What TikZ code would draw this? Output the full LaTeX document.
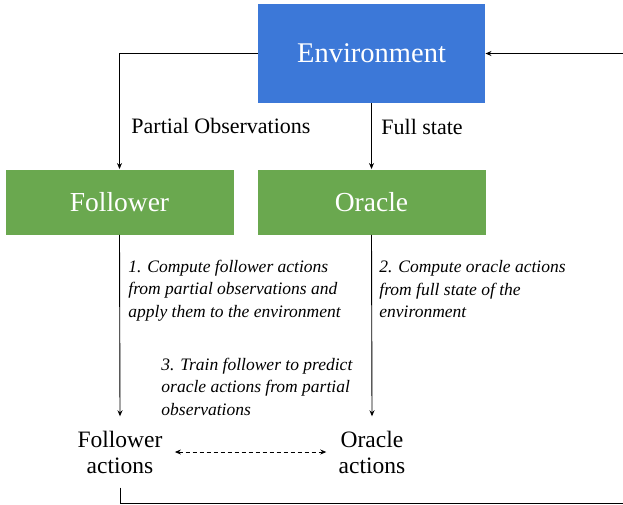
\documentclass[tikz,border=0pt]{standalone}
\usepackage{fontspec}
\setmainfont{Liberation Serif}
\usetikzlibrary{arrows.meta}
\definecolor{envblue}{HTML}{3C78D8}
\definecolor{agentgreen}{HTML}{6AA84F}
\begin{document}
\begin{tikzpicture}[x=1pt,y=-1pt,
      line width=0.9pt,
      >={Stealth[length=6pt,width=5pt]},
      envbox/.style={fill=envblue,text=white,minimum width=227pt,minimum height=99pt,
        font=\fontsize{28.5}{34}\selectfont},
      agentbox/.style={fill=agentgreen,text=white,minimum width=228pt,minimum height=65pt,
        font=\fontsize{27.5}{33}\selectfont},
      flowlabel/.style={anchor=west,inner sep=0pt,font=\fontsize{22}{26}\selectfont},
      steptext/.style={anchor=west,inner sep=0pt,align=left,
        font=\fontsize{17.5}{22.5}\selectfont\itshape},
      actionsnode/.style={align=center,inner xsep=12pt,inner ysep=14pt,
        font=\fontsize{23.5}{26}\selectfont}]
      \useasboundingbox (0,0) rectangle (623,504);
      \clip (0,0) rectangle (623,504);
      \path (371.5,53.5) node[envbox] (env) {Environment};
      \path (119.5,202) node[agentbox] (follower) {Follower};
      \path (371.5,202) node[agentbox] (oracle) {Oracle};
      \path (120,452) node[actionsnode] (fa) {Follower\\actions};
      \path (372,452) node[actionsnode] (oa) {Oracle\\actions};
      \path (131,126) node[flowlabel] (po) {Partial Observations};
      \path (381,127) node[flowlabel] (fs) {Full state};
      \path (128,290.5) node[steptext] (s1) {1. Compute follower actions\\from partial observations and\\apply them to the environment};
      \path (379,289.5) node[steptext] (s2) {2. Compute oracle actions\\from full state of the\\environment};
      \path (161,386.5) node[steptext] (s3) {3. Train follower to predict\\oracle actions from partial\\observations};
      \coordinate (loop) at (650,503.5);
      \draw[->] (env.west) -| (follower.north);
      \draw[->] (env.south) -- (oracle.north);
      \draw[->] (follower.south) -- (fa.north);
      \draw[->] (oracle.south) -- (oa.north);
      \draw[<->,dashed,line width=0.8pt,dash pattern=on 4pt off 3pt] (fa) -- (oa);
      \draw[->] (fa.south) |- (loop) |- (env.east);
     \end{tikzpicture}
\end{document}
